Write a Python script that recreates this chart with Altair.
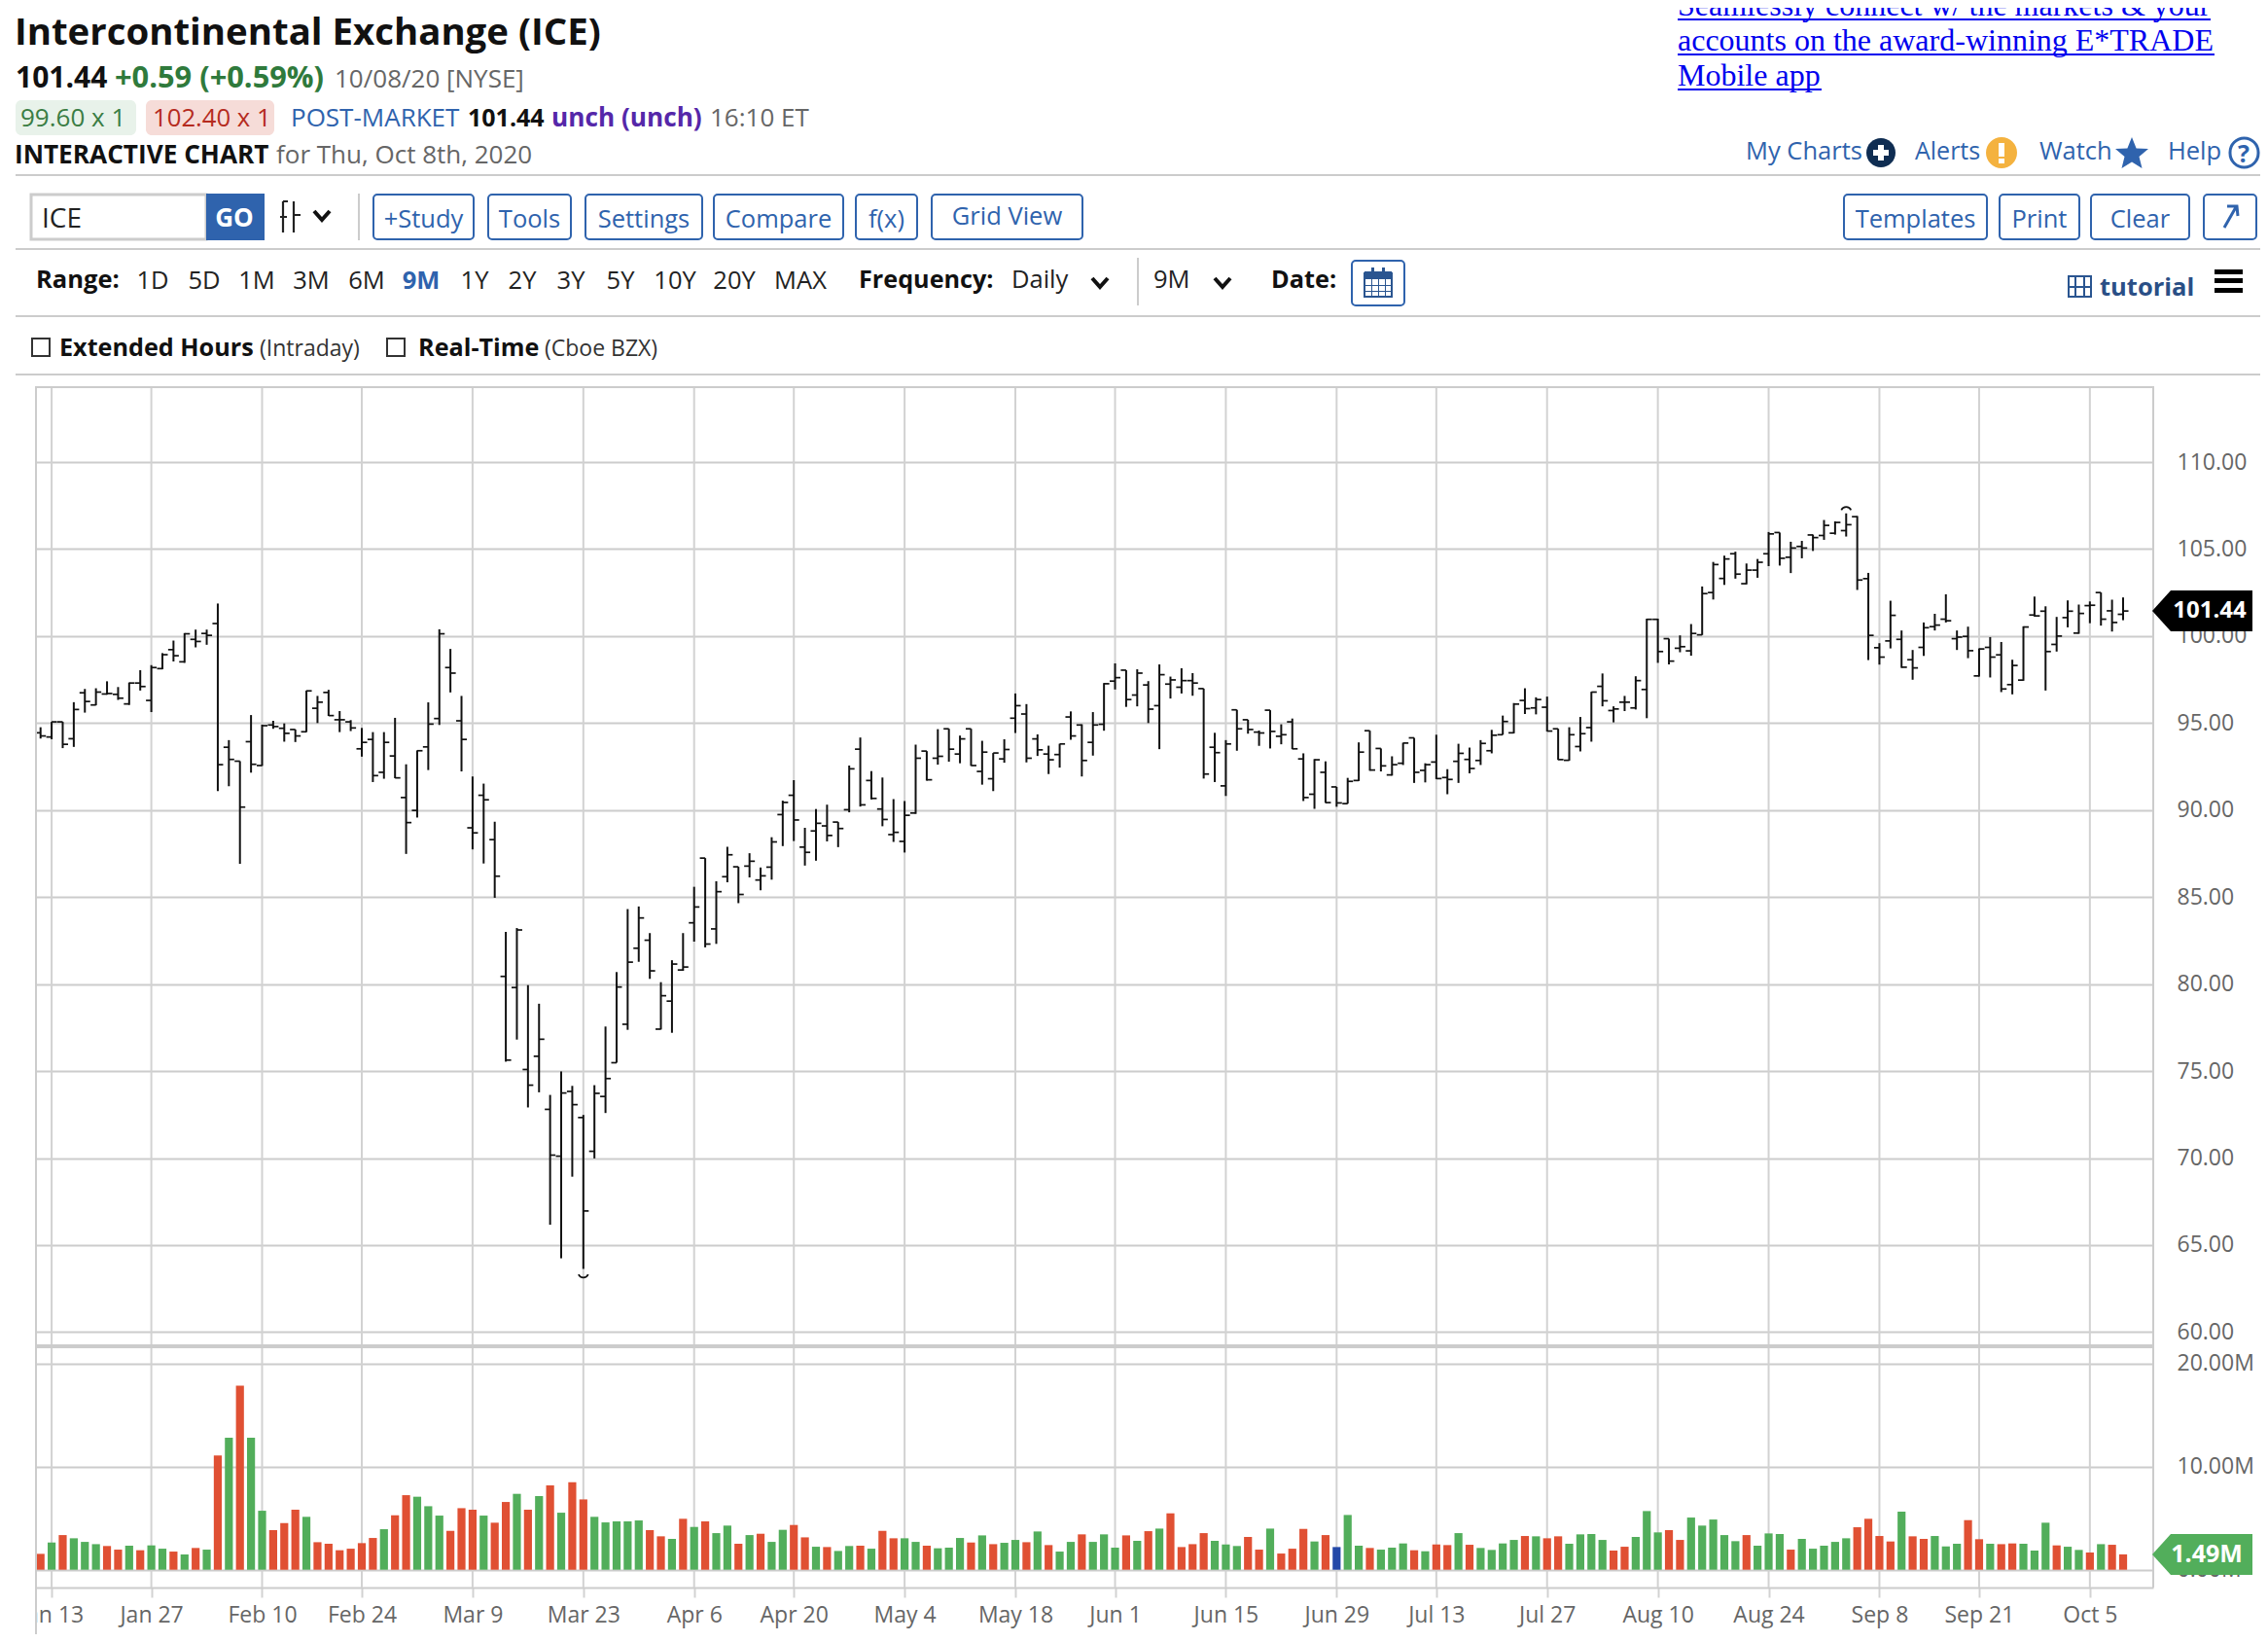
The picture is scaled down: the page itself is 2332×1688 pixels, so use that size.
import altair as alt
import pandas as pd

opens = [94.44,94.2,95.07,94.1,96.74,96.04,96.67,96.65,96.1,97.3,
96.3,98.13,99.22,98.52,99.81,100.15,100.72,93.61,92.81,93.93,
92.56,94.89,94.7,94.63,94.5,95.85,96.76,95.19,95.07,93.52,
94.06,92.17,93.11,90.72,89.98,93.63,95.26,98.19,95.13,88.98,
90.85,88.3,80.44,79.8,75.09,75.85,72.8,70.11,73.83,72.33,
70.39,73.54,75.48,77.69,82.06,82.52,77.41,79.02,80.81,83.52,
87.24,83.17,86.17,86.74,86.78,85.98,86.72,89.74,90.85,87.87,
88.8,89.09,89.31,90.02,93.5,91.7,90.06,88.59,88.2,89.83,
93.39,92.98,94.67,93.22,94.67,92.22,91.8,92.94,95.28,95.52,
94.09,93.22,93.19,95.35,94.89,93.89,94.93,97.41,98.04,96.61,
97.19,96.0,97.24,97.06,97.44,96.98,93.61,91.39,95.76,95.19,
94.48,95.74,94.24,95.07,92.94,90.91,92.17,91.33,90.37,91.7,
94.56,93.54,92.02,92.69,94.15,92.28,92.76,91.87,92.8,92.91,
92.85,93.41,94.33,94.44,96.3,95.87,95.91,94.67,92.86,93.65,
94.74,97.11,95.72,96.2,95.87,96.93,100.96,99.85,99.3,99.15,
100.07,102.5,103.31,104.73,103.01,103.79,104.73,105.95,104.53,105.15,
105.81,105.78,105.91,106.06,106.86,103.3,99.33,99.72,99.81,98.64,
99.35,100.54,100.97,99.85,99.98,97.71,99.35,98.92,97.21,97.47,
101.21,101.43,99.52,101.06,100.17,101.75,102.5,101.45,101.25]
highs = [94.76,95.07,95.07,96.2,96.96,97.0,97.4,97.07,97.33,98.04,
98.33,99.02,99.74,100.17,100.37,100.37,101.87,94.02,92.81,95.46,
94.91,95.13,94.98,94.63,96.87,96.56,96.91,95.69,95.17,94.72,
94.48,94.48,95.3,92.63,93.43,96.19,100.39,99.26,96.56,91.93,
91.52,89.33,83.0,83.22,79.94,78.87,73.63,74.98,74.15,72.48,
74.19,77.56,80.69,84.31,84.46,82.93,80.11,81.37,82.93,85.59,
87.24,85.91,87.89,86.74,87.52,86.7,88.44,90.54,91.72,88.98,
90.06,90.31,89.31,92.56,94.17,92.24,91.87,90.63,90.52,93.76,
93.39,94.65,94.67,94.28,94.67,93.98,93.28,94.07,96.7,96.09,
94.35,93.7,93.81,95.67,94.93,95.63,97.3,98.43,98.04,98.09,
97.41,98.37,97.67,98.15,97.87,96.98,94.44,94.02,95.76,95.19,
94.57,95.74,94.93,95.26,93.26,92.93,92.8,91.33,91.85,93.89,
94.56,93.54,93.09,93.87,94.15,92.69,94.33,92.35,93.81,93.59,
94.02,94.61,95.43,96.15,97.0,96.48,96.52,94.67,94.76,95.35,
96.8,97.85,95.96,96.56,97.69,101.0,101.0,99.85,100.04,100.69,
102.85,104.26,104.62,104.85,104.17,104.43,105.98,105.95,105.42,105.47,
105.83,106.67,106.59,107.05,106.9,103.63,99.59,102.03,100.32,99.2,
100.78,101.28,102.4,100.32,100.54,99.29,99.94,99.66,98.64,100.56,
102.27,101.71,101.1,102.05,101.81,101.99,102.5,102.09,102.22]
lows = [94.11,94.07,93.56,93.63,95.6,96.02,96.63,96.33,96.04,96.87,
95.63,98.09,98.54,98.46,99.35,99.5,91.09,91.37,86.91,92.15,
92.54,94.67,93.93,93.91,94.48,95.0,95.41,94.48,94.54,93.07,
91.61,91.8,91.83,87.48,89.57,92.3,94.89,96.76,92.22,87.74,
86.93,84.96,75.54,76.81,72.91,73.78,66.17,64.24,68.93,63.63,
69.98,72.59,75.48,77.37,81.28,80.3,77.39,77.2,80.76,82.44,
82.11,82.31,85.85,84.65,86.13,85.39,86.0,87.93,88.22,86.81,
87.09,88.2,87.87,89.87,90.2,90.61,89.07,88.17,87.56,89.78,
91.69,92.61,92.78,92.69,92.54,91.46,91.09,92.72,94.43,92.74,
93.11,92.07,92.44,94.04,91.93,93.13,94.56,96.93,95.93,95.96,
95.0,93.5,96.41,96.7,96.57,91.81,91.61,90.81,93.41,94.39,
93.69,93.54,93.78,93.5,90.52,90.07,90.41,90.19,90.37,91.67,
92.26,92.22,91.98,92.59,91.56,91.59,91.78,90.91,91.56,92.11,
92.59,93.26,94.33,94.41,95.52,95.5,94.52,92.88,92.84,93.37,
93.93,95.96,95.04,95.69,95.78,95.28,98.46,98.37,99.07,98.87,
100.06,102.1,102.94,103.3,102.97,103.35,104.02,104.05,103.62,104.47,
104.89,105.53,105.83,105.72,102.65,98.62,98.36,99.29,98.17,97.49,
98.86,100.32,100.78,99.2,98.73,97.67,97.62,96.78,96.65,97.43,
101.12,96.87,99.11,100.5,100.13,100.74,100.6,100.26,100.91]
closes = [94.26,95.07,93.78,95.78,96.24,96.78,96.7,96.43,97.3,97.1,
98.19,98.93,98.87,100.13,99.69,100.04,92.61,92.91,90.17,92.63,
94.85,94.8,94.41,94.26,96.85,96.2,95.43,95.19,94.72,93.89,
91.98,93.89,91.85,89.28,93.41,94.94,100.13,97.87,94.06,88.69,
90.59,86.2,75.63,83.11,74.19,76.83,70.17,73.74,73.07,66.96,
73.72,74.57,79.83,81.26,83.8,80.76,79.33,81.15,80.98,84.43,
82.3,85.31,87.43,85.15,87.06,86.22,88.17,90.44,89.43,87.57,
89.24,88.54,88.94,92.37,90.3,90.67,89.46,88.72,89.7,92.98,
91.74,93.09,93.5,94.09,92.56,93.33,93.28,93.48,96.0,92.98,
93.46,92.89,93.8,94.26,92.85,94.89,97.26,97.61,96.35,97.87,
95.8,97.78,97.48,97.44,97.3,92.07,93.3,93.8,94.67,94.63,
94.43,94.52,94.33,93.52,90.72,92.89,90.43,90.41,91.65,93.33,
92.3,92.54,92.61,93.85,92.17,92.61,91.81,91.76,93.26,92.39,
93.83,94.3,95.09,96.09,95.83,96.35,94.54,92.9,94.33,94.39,
96.78,96.28,95.81,96.2,97.44,100.96,99.11,98.56,99.39,100.15,
102.44,104.11,104.43,103.56,103.79,104.24,105.87,104.47,105.06,105.06,
105.66,106.36,106.53,106.4,103.22,100.04,98.79,101.19,98.21,98.17,
100.48,100.63,100.88,99.94,99.16,99.26,98.79,96.96,98.31,100.52,
101.16,99.11,100.0,101.43,101.3,101.77,100.97,100.78,101.44]
volumes = [1.54,2.64,3.36,3.05,2.70,2.48,2.30,1.95,2.33,1.89,
2.36,2.04,1.76,1.48,2.11,1.95,11.07,12.80,17.86,12.80,
5.72,3.84,4.53,5.82,5.13,2.67,2.52,1.89,2.04,2.58,
3.08,3.93,5.28,7.23,7.08,6.16,5.25,3.77,5.97,5.82,
5.25,4.56,6.57,7.36,5.82,7.14,8.18,5.53,8.49,6.82,
5.13,4.59,4.69,4.69,4.78,3.84,3.24,2.99,4.94,4.15,
4.69,3.55,4.28,2.52,3.36,3.49,2.70,3.87,4.34,3.14,
2.23,2.20,1.82,2.30,2.33,2.04,3.77,3.05,3.05,2.70,
2.33,2.08,2.14,3.08,2.64,3.33,2.48,2.61,2.89,2.67,
3.71,2.39,1.76,2.70,3.43,2.70,3.43,2.14,3.33,2.80,
3.74,3.99,5.47,2.20,2.48,3.55,2.80,2.45,2.30,3.18,
1.95,3.99,1.57,2.04,3.96,2.74,3.36,2.20,5.31,2.33,
2.11,1.95,2.14,2.55,1.89,1.79,2.45,2.39,3.55,2.42,
2.11,1.92,2.55,2.89,3.27,3.24,3.05,3.24,2.52,3.43,
3.46,2.89,1.86,2.23,3.18,5.69,3.62,3.84,2.89,5.06,
4.28,4.87,3.36,2.77,3.36,2.33,3.52,3.46,1.95,2.99,
2.04,2.33,2.70,3.05,4.12,4.94,3.27,2.74,5.63,3.24,
2.99,3.27,2.26,2.52,4.81,2.96,2.52,2.48,2.55,2.52,
1.86,4.56,2.36,2.23,1.92,1.67,2.48,2.42,1.49]
vol_dir = list("rgrgggrrgr" "ggrgrgrgrg" "grrrgrrrrr" "rgrrgggrrr" "grrgrgrgrr" "gggggrrgrg" "rggrgrggr"
               "rgrggrgrrg" "grgggrgrgg" "rgrggrgggr" "grgrrrrggg" "rrgrrrgrbg" "grgggrgrrg"
               "rggggrgrrg" "gggrrgggrr" "gggggrgggr" "ggggg" "rrrrgr" "rgggrrgrrg" "ggrggrgrrg")[:189]
tick_idx = [1,10,20,29,39,49,59,68,78,88,97,107,117,126,136,146,156,166,175,185]
tick_lab = ["Jan 13","Jan 27","Feb 10","Feb 24","Mar 9","Mar 23","Apr 6","Apr 20","May 4","May 18",
            "Jun 1","Jun 15","Jun 29","Jul 13","Jul 27","Aug 10","Aug 24","Sep 8","Sep 21","Oct 5"]
price_ticks = [60,65,70,75,80,85,90,95,100,105,110]
vol_ticks = [0,10,20]
last_price = [101.44]
last_vol = [1.49]
hi_mark = [(163, 107.35)]
lo_mark = [(49, 63.2)]

FONT = "Open Sans"
GRID = "#cccccc"
BLUE = "#2f63ad"
GRAY = "#666666"
GREEN = "#52ae5b"
RED = "#e05033"

df = pd.DataFrame({"i": range(189), "o": opens, "h": highs, "l": lows, "c": closes,
                   "v": volumes, "d": vol_dir})
ticks_df = pd.DataFrame({"i": tick_idx})

xs = alt.Scale(domain=[-0.4126, 190.72], range=[0, 2177], nice=False, zero=False, padding=0)
ps = alt.Scale(domain=[60, 110], range=[972.4, 78], nice=False, zero=False)
vs = alt.Scale(domain=[0, 20], range=[1216.7, 1004.7], nice=False, zero=False)
one = alt.Data(values=[{}])

x_axis = alt.Axis(values=tick_idx, title=None, grid=False,
                  domain=True, domainColor=GRID, domainWidth=2, tickColor="#d2d2d2", tickWidth=2, tickSize=10,
                  labelFont=FONT, labelFontSize=23, labelColor=GRAY, labelPadding=7, labelOverlap=False,
                  labelFlush=False, labelBound=False,
                  labelExpr="%s[indexof(%s, datum.value)]" % (str(tick_lab), str(tick_idx)))
X = alt.X("i:Q", scale=xs, axis=x_axis)
p_axis = alt.Axis(values=price_ticks, orient="right", title=None, format=".2f", grid=True, gridColor=GRID,
                  gridWidth=2, domain=False, ticks=False, labelFont=FONT, labelFontSize=23, labelColor=GRAY,
                  labelPadding=24, labelAlign="left", labelOverlap=False, labelBound=False, labelFlush=False)
v_axis = alt.Axis(values=vol_ticks, orient="right", title=None, grid=True, gridColor=GRID,
                  gridWidth=2, domain=False, ticks=False, labelFont=FONT, labelFontSize=23, labelColor=GRAY,
                  labelPadding=24, labelAlign="left", labelOverlap=False, labelBound=False, labelFlush=False,
                  labelExpr="format(datum.value, '.2f') + 'M'")

vgrid = alt.Chart(ticks_df).mark_rule(color="#d2d2d2", strokeWidth=2).encode(
    x=X, y=alt.value(0), y2=alt.value(1235))
stem = alt.Chart(df).mark_rule(color="#111111", strokeWidth=2).encode(
    x=X, y=alt.Y("l:Q", scale=ps, axis=p_axis), y2="h:Q")
open_t = alt.Chart(df).mark_rule(color="#111111", strokeWidth=1.7, xOffset=-5.5, x2Offset=0).encode(
    x=X, x2="i:Q", y=alt.Y("o:Q", scale=ps, axis=None))
close_t = alt.Chart(df).mark_rule(color="#111111", strokeWidth=1.7, xOffset=0, x2Offset=5.5).encode(
    x=X, x2="i:Q", y=alt.Y("c:Q", scale=ps, axis=None))
bars = alt.Chart(df).mark_bar(size=8.2, stroke=None).encode(
    x=X,
    y=alt.Y("v:Q", scale=vs, axis=v_axis, stack=None),
    color=alt.Color("d:N", legend=None,
                    scale=alt.Scale(domain=["r", "g", "b"], range=[RED, GREEN, "#2449a8"])))

layers = [vgrid, stem, open_t, close_t, bars]


def px(x):
    return alt.value(x - 37)


def py(y):
    return alt.value(y - 396)


def text(label, x, y, size=25.5, color="#000000", weight="normal", align="left", font=FONT):
    layers.append(alt.Chart(one).mark_text(align=align, baseline="alphabetic", fontSize=size, font=font,
                                           fontWeight=weight, color=color).encode(
        x=px(x), y=py(y), text=alt.value(label)))


def rect(x1, y1, x2, y2, fill=None, stroke=None, sw=2, r=0):
    kw = {}
    if fill:
        kw["fill"] = fill
    else:
        kw["fillOpacity"] = 0
    if stroke:
        kw["stroke"] = stroke
        kw["strokeWidth"] = sw
    if r:
        kw["cornerRadius"] = r
    layers.append(alt.Chart(one).mark_rect(**kw).encode(x=px(x1), x2=px(x2), y=py(y1), y2=py(y2)))


def glyph(path, x, y, fill=None, stroke=None, sw=3):
    kw = dict(shape=path, size=4, opacity=1)
    if fill:
        kw.update(filled=True, fill=fill, strokeWidth=0)
    else:
        kw.update(filled=False, stroke=stroke, strokeWidth=sw, fillOpacity=0)
    layers.append(alt.Chart(one).mark_point(**kw).encode(x=px(x), y=py(y)))


CHEV = "M -8 -5 L 0 4 L 8 -5"

# pane frame
rect(37, 396, 2214, 398, fill=GRID)
rect(37, 1381, 2214, 1385, fill=GRID)
rect(8, 1643, 36, 1679, fill="#ffffff")
rect(36, 396, 38, 1679, fill=GRID)
rect(2213, 396, 2215, 1631, fill=GRID)

# header rules
for yy in (179, 255, 324, 384):
    rect(16, yy - 1, 2324, yy + 1, fill=GRID)

# title block
text("Intercontinental Exchange (ICE)", 15, 45, 38.4, "#111111", "bold")
text("101.44", 16, 89, 30, "#111111", "bold")
text("+0.59 (+0.59%)", 118, 89, 30.8, "#2f7a3c", "bold")
text("10/08/20 [NYSE]", 344, 89, 26, GRAY)
rect(16, 102, 140, 138, fill="#e8f2ea", r=6)
rect(150, 102, 282, 138, fill="#f6dcd8", r=6)
text("99.60 x 1", 21, 129, 26, "#3a7d44")
text("102.40 x 1", 157, 129, 25.7, "#b52b1e")
text("POST-MARKET", 299, 129, 26, BLUE)
text("101.44", 481, 129, 25, "#111111", "bold")
text("unch (unch)", 567, 129, 26.2, "#5527a9", "bold")
text("16:10 ET", 730, 129, 26, GRAY)
text("INTERACTIVE CHART", 15, 167, 26.2, "#111111", "bold")
text("for Thu, Oct 8th, 2020", 284, 167, 26, GRAY)

# link
for s, yy, x2 in (("Seamlessly connect w/ the markets & your", 15, 2273),
                  ("accounts on the award-winning E*TRADE", 51, 2277),
                  ("Mobile app", 87, 1873)):
    text(s, 1725, yy, 32, "#0000ee", font="Liberation Serif")
    rect(1725, yy + 3, x2, yy + 5, fill="#0000ee")

# top-right links
text("My Charts", 1795, 163, 25.5, BLUE)
rect(1919, 141, 1949, 171, fill="#0f2d52", r=15)
rect(1931, 148, 1937, 164, fill="#ffffff")
rect(1926, 153, 1942, 159, fill="#ffffff")
text("Alerts", 1969, 163, 25, BLUE)
rect(2042, 140, 2074, 172, fill="#f4b23f", r=16)
rect(2055, 146, 2061, 160, fill="#ffffff")
rect(2055, 162, 2061, 167, fill="#ffffff")
text("Watch", 2097, 163, 25.5, BLUE)
glyph("M 0 -17 L 4.6 -5.5 L 17 -5 L 7.5 3 L 10.5 15 L 0 8.5 L -10.5 15 L -7.5 3 L -17 -5 L -4.6 -5.5 Z",
      2192, 157, fill=BLUE)
text("Help", 2229, 163, 25.5, BLUE)
rect(2293, 141, 2322, 171, stroke=BLUE, sw=3, r=15)
text("?", 2307, 166, 25, BLUE, "bold", "center")

# tool row
rect(32, 199, 212, 245, fill="#ffffff", stroke=GRID, sw=3)
text("ICE", 43, 233, 28, "#222222")
rect(212, 198, 272, 246, fill=BLUE)
text("GO", 241, 232, 26, "#ffffff", "bold", "center")
glyph("M -9 0 L -2 0 M -6 -16 L -6 16 M -6 -16 L -1 -16 M 5 -16 L 5 16 M 5 -2 L 12 -2", 297, 222, stroke="#222222", sw=2.2)
glyph(CHEV, 331, 221, stroke="#111111", sw=4)
rect(368, 198, 370, 246, fill=GRID)
for lab, x1, x2, base in (("+Study", 384, 487, 233), ("Tools", 502, 587, 233), ("Settings", 602, 722, 233),
                          ("Compare", 734, 867, 233), ("f(x)", 880, 943, 233), ("Grid View", 958, 1113, 230),
                          ("Templates", 1896, 2043, 233), ("Print", 2056, 2138, 233), ("Clear", 2150, 2251, 233)):
    rect(x1, 199, x2, 245, stroke=BLUE, r=4)
    text(lab, (x1 + x2) / 2, base, 25.5, BLUE, align="center")
rect(2266, 199, 2320, 245, stroke=BLUE, r=4)
glyph("M -6 11 L 6 -10 M -3 -11 L 7 -11 L 8 -1", 2293, 222, stroke=BLUE, sw=3)

# range row
text("Range:", 37, 295, 25.5, "#111111", "bold")
for lab, x in (("1D", 157), ("5D", 210), ("1M", 264), ("3M", 320), ("6M", 377), ("9M", 433), ("1Y", 488),
               ("2Y", 537), ("3Y", 587), ("5Y", 638), ("10Y", 694), ("20Y", 755), ("MAX", 823)):
    if lab == "9M":
        text(lab, x, 296, 25.5, BLUE, "bold", "center")
    else:
        text(lab, x, 296, 25.5, "#222222", align="center")
text("Frequency:", 883, 295, 25.2, "#111111", "bold")
text("Daily", 1040, 295, 25.5, "#222222")
glyph(CHEV, 1131, 290, stroke="#111111", sw=4)
rect(1169, 264, 1171, 313, fill=GRID)
text("9M", 1186, 295, 25.5, "#222222")
glyph(CHEV, 1257, 290, stroke="#111111", sw=4)
text("Date:", 1307, 295, 25.3, "#111111", "bold")
rect(1390, 267, 1444, 313, stroke=BLUE, r=4)
rect(1403, 280, 1431, 304, fill="#ffffff", stroke="#2a5590", sw=2)
rect(1403, 278, 1431, 286, fill="#2a5590")
rect(1410, 274, 1413, 282, fill="#2a5590")
rect(1421, 274, 1424, 282, fill="#2a5590")
for xx in (1410, 1417, 1424):
    rect(xx, 286, xx + 1, 304, fill="#2a5590")
for yy in (292, 298):
    rect(1403, yy, 1431, yy + 1, fill="#2a5590")
rect(2127, 283, 2150, 304, stroke="#2a5590", sw=2)
rect(2133, 283, 2135, 304, fill="#2a5590")
rect(2142, 283, 2144, 304, fill="#2a5590")
rect(2127, 293, 2150, 295, fill="#2a5590")
text("tutorial", 2159, 303, 25.5, "#2a4f86", "bold")
for yy in (276, 285, 295):
    rect(2277, yy, 2306, yy + 5, fill="#000000")

# option row
rect(33, 347, 51, 365, fill="#ffffff", stroke="#333333", sw=2)
text("Extended Hours", 61, 365, 25.2, "#111111", "bold")
text("(Intraday)", 267, 365, 23, "#333333")
rect(398, 347, 416, 365, fill="#ffffff", stroke="#333333", sw=2)
text("Real-Time", 430, 365, 25.2, "#111111", "bold")
text("(Cboe BZX)", 560, 365, 23, "#333333")

# high/low markers
marks_hi = pd.DataFrame({"i": [m[0] for m in hi_mark], "p": [m[1] for m in hi_mark]})
marks_lo = pd.DataFrame({"i": [m[0] for m in lo_mark], "p": [m[1] for m in lo_mark]})
layers.append(alt.Chart(marks_hi).mark_point(shape="M -5 2 A 5.5 5.5 0 0 1 5 2", size=4, filled=False,
                                             stroke="#111111", strokeWidth=1.7, opacity=1, fillOpacity=0).encode(
    x=X, y=alt.Y("p:Q", scale=ps, axis=None)))
layers.append(alt.Chart(marks_lo).mark_point(shape="M -5 -2 A 5.5 5.5 0 0 0 5 -2", size=4, filled=False,
                                             stroke="#111111", strokeWidth=1.7, opacity=1, fillOpacity=0).encode(
    x=X, y=alt.Y("p:Q", scale=ps, axis=None)))

# last-value flags
BADGE = "M 0 0 L 19 -21 L 103 -21 L 103 21 L 19 21 Z"
lp = pd.DataFrame({"p": last_price, "t": ["%.2f" % last_price[0]]})
lv = pd.DataFrame({"p": last_vol, "t": ["%.2fM" % last_vol[0]]})
layers.append(alt.Chart(lp).mark_point(shape=BADGE, size=4, filled=True, fill="#000000", opacity=1, strokeWidth=0).encode(
    x=px(2213), y=alt.Y("p:Q", scale=ps, axis=None)))
layers.append(alt.Chart(lp).mark_text(font=FONT, fontSize=24, fontWeight="bold", color="#ffffff", align="center", baseline="middle").encode(
    x=px(2272), y=alt.Y("p:Q", scale=ps, axis=None), text="t:N"))
layers.append(alt.Chart(lv).mark_point(shape=BADGE, size=4, filled=True, fill=GREEN, opacity=1, strokeWidth=0).encode(
    x=px(2213), y=alt.Y("p:Q", scale=vs, axis=None)))
layers.append(alt.Chart(lv).mark_text(font=FONT, fontSize=25, fontWeight="bold", color="#ffffff", align="center", baseline="middle").encode(
    x=px(2269), y=alt.Y("p:Q", scale=vs, axis=None), text="t:N"))

chart = alt.layer(*layers).resolve_scale(y="independent").resolve_axis(y="independent").properties(
    width=2177, height=1235,
    autosize=alt.AutoSizeParams(type="none"),
    padding={"left": 29, "top": 389, "right": 110, "bottom": 48},
).configure_view(stroke=None)

chart.save("out.html", embed_options={"renderer": "svg", "actions": False})
